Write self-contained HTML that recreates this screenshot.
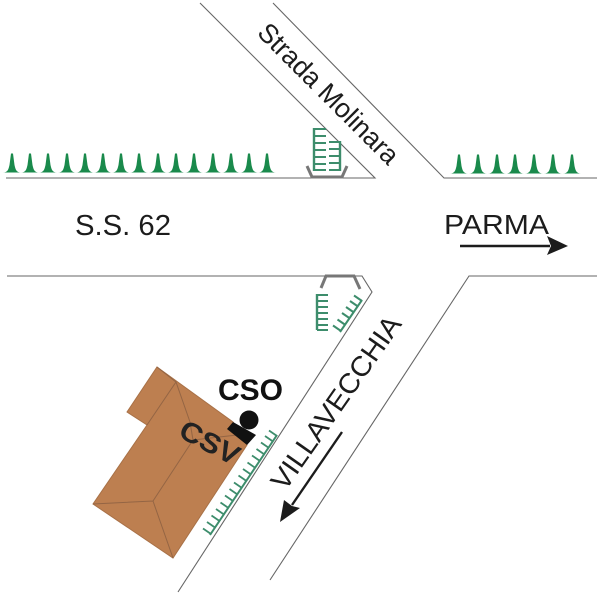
<!DOCTYPE html>
<html><head><meta charset="utf-8"><style>
html,body{margin:0;padding:0;background:#fff}
svg{display:block}
text{font-family:"Liberation Sans",sans-serif;fill:#1c1c1c}
</style></head><body>
<svg width="600" height="600" viewBox="0 0 600 600" xmlns="http://www.w3.org/2000/svg">
<defs>
<path id="s" d="M-9 0.5C-4 0.5-3.500-3-2.500-7L-1-18.500H1L2.500-7C3.500-3 4 .5 9 .5Z" fill="#1a8a4c"/>
</defs>
<g fill="none" stroke="#666" stroke-width="1.100">
<path d="M6 178H375L200 3"/>
<path d="M273 3L444 178H597"/>
<path d="M7 276H362L372 292L178 592"/>
<path d="M597 276H469L270 580"/>
</g>
<g>
<use href="#s" x="12" y="172"/><use href="#s" x="30" y="172"/><use href="#s" x="48" y="172"/><use href="#s" x="67" y="172"/><use href="#s" x="85" y="172"/><use href="#s" x="103" y="172"/><use href="#s" x="121" y="172"/><use href="#s" x="139" y="172"/><use href="#s" x="158" y="172"/><use href="#s" x="176" y="172"/><use href="#s" x="194" y="172"/><use href="#s" x="213" y="172"/><use href="#s" x="231" y="172"/><use href="#s" x="249" y="172"/><use href="#s" x="267" y="172"/>
<use href="#s" x="459" y="173"/><use href="#s" x="478" y="173"/><use href="#s" x="497" y="173"/><use href="#s" x="515" y="173"/><use href="#s" x="534" y="173"/><use href="#s" x="553" y="173"/><use href="#s" x="572" y="173"/>
</g>
<!-- top hedge -->
<path d="M314 128V171M340 141V171" stroke="#3d8d6c" stroke-width="2.400" fill="none"/>
<path d="M314 129H326M314 136H326M314 143H326M314 150H326M314 157H326M314 164H326M314 170H326M329 142H340M329 149H340M329 156H340M329 163H340M329 170H340" stroke="#3d8d6c" stroke-width="2" fill="none"/>
<path d="M307 166L312 177H342L347 166" stroke="#777" stroke-width="3" fill="none"/>
<!-- lower hedge -->
<path d="M317 294V330" stroke="#3d8d6c" stroke-width="2.400" fill="none"/>
<path d="M317 295H328M317 301H328M317 307H328M317 313H328M317 319H328M317 325H328M317 330H328" stroke="#3d8d6c" stroke-width="2" fill="none"/>
<path d="M340 332L362 300" stroke="#3d8d6c" stroke-width="2" fill="none"/>
<path d="M341 331l-8-5.500M345.500 325l-8-5.500M350 318.500l-8-5.500M354 312.500l-8-5.500M358 306.500l-8-5.500M362 301l-8-5.500" stroke="#3d8d6c" stroke-width="2" fill="none"/>
<path d="M321 288L326 276H354L360 289" stroke="#777" stroke-width="3" fill="none"/>
<!-- house -->
<path d="M157 367L233 422L247 445L173 558L93 504L147 425L127 412Z" fill="#bd7f50" stroke="#a87147" stroke-width="1"/>
<path d="M147 425L176 382L190 422M176 382L157 367M93 504L153 501L173 558M153 501L193 440L190 422M193 440L237 435" fill="none" stroke="#946544" stroke-width="1"/>
<!-- house-side hedge -->
<path d="M210 535L277 435" stroke="#3d8d6c" stroke-width="2" fill="none"/>
<g stroke="#3d8d6c" stroke-width="1.800" fill="none"><path d="M211 534l-8-5.500M215 527.500l-8-5.500M219.500 521l-8-5.500M224 514.500l-8-5.500M228.500 508l-8-5.500M233 501l-8-5.500M237.500 494.500l-8-5.500M242 488l-8-5.500M246.500 481l-8-5.500M251 474.500l-8-5.500M255.500 468l-8-5.500M260 461l-8-5.500M264.500 454.500l-8-5.500M269 448l-8-5.500M273 441.500l-8-5.500M277 436l-8-5.500"/></g>
<!-- CSO marker -->
<path d="M227 429L233 422L256 435L247 445Z" fill="#111"/>
<circle cx="249" cy="420" r="9.500" fill="#111"/>
<text x="218" y="400" font-size="30" font-weight="bold" style="fill:#111" textLength="65" lengthAdjust="spacingAndGlyphs">CSO</text>
<text transform="translate(177,436) rotate(28)" font-size="28" font-weight="bold" style="fill:#222" textLength="64" lengthAdjust="spacingAndGlyphs">CSV</text>
<text x="75" y="235" font-size="29" textLength="96" lengthAdjust="spacingAndGlyphs">S.S. 62</text>
<text x="444" y="234" font-size="28" textLength="105" lengthAdjust="spacingAndGlyphs">PARMA</text>
<text transform="translate(256,34) rotate(45)" font-size="27" textLength="187" lengthAdjust="spacingAndGlyphs">Strada Molinara</text>
<text transform="translate(285,492) rotate(-55)" font-size="28" textLength="205" lengthAdjust="spacingAndGlyphs">VILLAVECCHIA</text>
<!-- arrows -->
<path d="M460 246H550" stroke="#1c1c1c" stroke-width="2.400"/>
<path d="M568 246L547 236L551 246L547 255Z" fill="#1c1c1c"/>
<path d="M342 432L292 505" stroke="#1c1c1c" stroke-width="2.400"/>
<path d="M280 522L284 500L292 506L300 508Z" fill="#1c1c1c"/>
</svg>
</body></html>
